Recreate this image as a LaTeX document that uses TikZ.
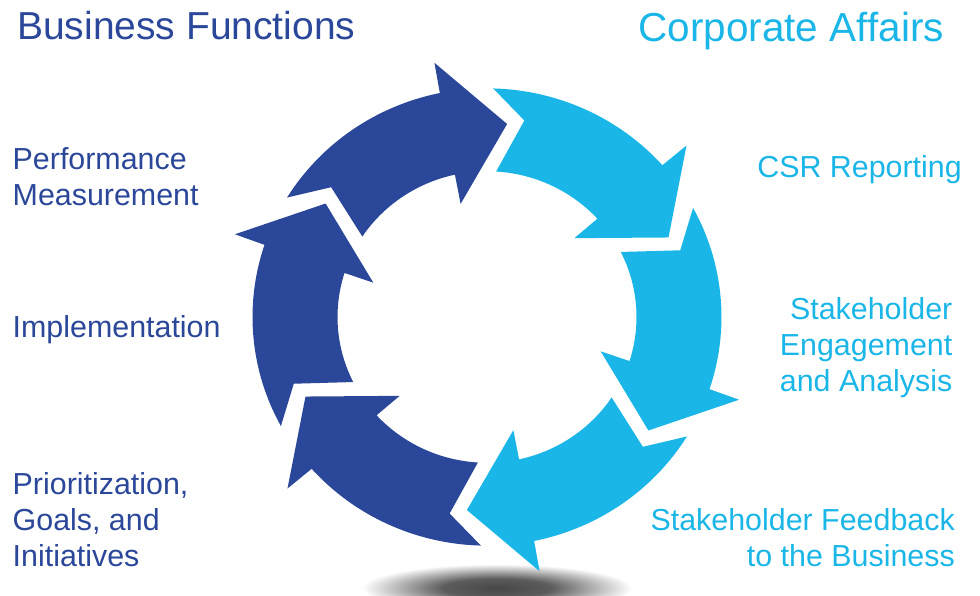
\documentclass[tikz,border=0pt]{standalone}
\usepackage{fontspec}
\setmainfont{Liberation Sans}
\definecolor{dblue}{HTML}{2B4799}
\definecolor{lblue}{HTML}{1AB6E8}
\pgfdeclareradialshading{shadowsh}{\pgfpoint{0bp}{0bp}}{color(0bp)=(black!72); color(10bp)=(black!64); color(25bp)=(white); color(50bp)=(white)}
\begin{document}
\begin{tikzpicture}[x=1pt,y=-1pt,
  title/.style={font=\fontsize{39}{44}\selectfont, inner sep=0},
  lab/.style={font=\fontsize{30.4}{36}\selectfont, inner sep=0}]
\useasboundingbox (0,0) rectangle (980,595);
\clip (0,0) rectangle (980,595);
% shadow
\shade[shading=shadowsh] (497,588) ellipse[x radius=135, y radius=24];
% ring of arrows
\begin{scope}[shift={(487,317)}, yscale=-0.975]
\foreach \k/\c in {0/dblue,1/lblue,2/lblue,3/lblue,4/dblue,5/dblue}{
  \pgfmathsetmacro\t{102-60*\k}
  \fill[\c] ({\t+46.5}:234.5)
    arc[start angle={\t+46.5}, end angle={\t-0.4}, radius=234.5]
    -- ({\t-0.6}:266) -- ({\t-17.8}:199) -- ({\t+0.8}:119) -- ({\t+0.4}:149.5)
    arc[start angle={\t+0.4}, end angle={\t+44.5}, radius=149.5]
    -- ({\t+37.5}:205) -- cycle;
}
\end{scope}
% titles
\node[title, text=dblue, anchor=base west] (bf) at (17,39.5) {Business Functions};
\node[title, text=lblue, anchor=base east, font=\fontsize{40.5}{44}\selectfont] (ca) at (944,41.5) {Corporate Affairs};
% left labels (base = baseline of last line)
\node[lab, text=dblue, anchor=base west, align=left] (pm) at (12.5,205) {Performance\\Measurement};
\node[lab, text=dblue, anchor=base west] (im) at (12.5,337.3) {Implementation};
\node[lab, text=dblue, anchor=base west, align=left] (pg) at (12.5,566) {Prioritization,\\Goals, and\\Initiatives};
% right labels
\node[lab, text=lblue, anchor=base east] (csr) at (962,177.3) {CSR Reporting};
\node[lab, text=lblue, anchor=base east, align=right] (sea) at (952.5,391) {Stakeholder\\Engagement\\and Analysis};
\node[lab, text=lblue, anchor=base east, align=right] (sfb) at (955,566) {Stakeholder Feedback\\to the Business};
\end{tikzpicture}
\end{document}
